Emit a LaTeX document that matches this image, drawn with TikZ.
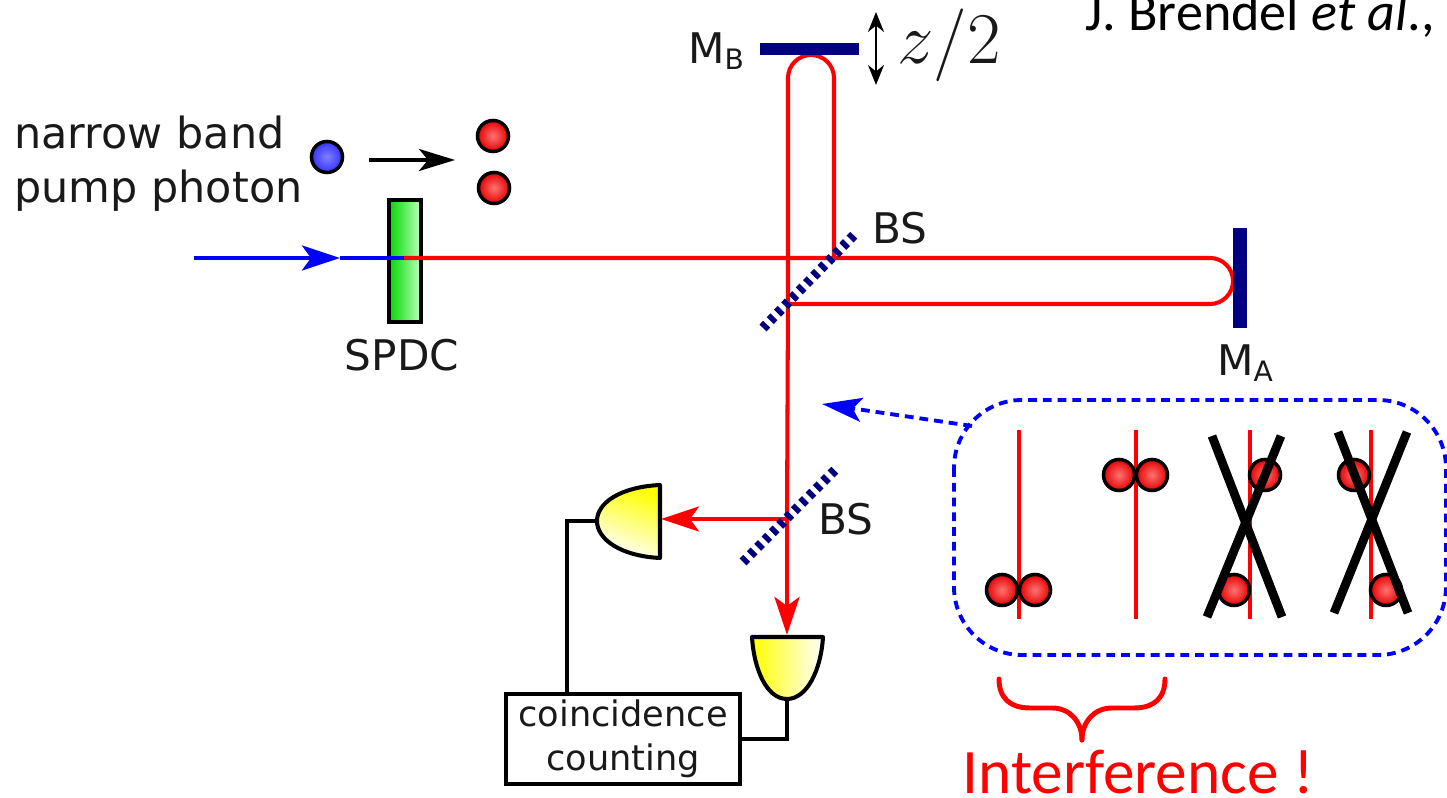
\documentclass[tikz,border=0pt]{standalone}
\usepackage{fontspec}
\setmainfont{DejaVu Sans}
\newfontfamily\calfont{Carlito}
\usetikzlibrary{arrows.meta}
\tikzset{
	beam/.style={red,line width=1.15pt},
	pumpbeam/.style={blue,line width=1.15pt},
	beamtip/.style={-{Stealth[length=.38cm,width=.25cm,inset=.09cm]}},
	mirror/.style={fill=blue!50!black,draw=none},
	splitter/.style={blue!50!black,line width=2.8pt,dash pattern=on 1.5pt off 1.45pt},
	wire/.style={black,line width=1.15pt},
	detector/.style={black,line width=1.15pt,line join=round},
	photon/.style={circle,draw=black,line width=1pt,inner sep=0pt,minimum size=.31cm,inner color=red!55,outer color=red!90!black},
	tag/.style={font=\fontsize{12}{14}\selectfont,text=black!90},
	track/.style={red,line width=1.3pt},
	cross/.style={black,line width=2.5pt}
}
\begin{document}
\begin{tikzpicture}[x=.01cm,y=-.01cm]
		\useasboundingbox (0,0) rectangle (1447,798);
		\coordinate (pumpin) at (194,258);
		\coordinate (pumptip) at (340,258);
		\coordinate (crystalmid) at (404,258);
		\coordinate (bsa) at (787,258);
		\coordinate (bsb) at (787,519);
		\coordinate (loopb) at (834,78);
		\coordinate (loopa) at (1210,258);
		\coordinate (tipdeta) at (661,519);
		\coordinate (tipdetb) at (787,635);
		\coordinate (outdeta) at (597,521);
		\coordinate (outdetb) at (787,699);
		% crystal and pump
		\draw[black,line width=1.15pt,left color=green!85!black,right color=green!25] (389,200) rectangle (421,322);
		\draw[pumpbeam,beamtip] (pumpin) -- (pumptip);
		\draw[pumpbeam] (pumptip) -- (crystalmid);
		\draw[beam] (crystalmid) -- (loopa) arc (-90:90:23) -- (788,304);
		\draw[beam] (834,258) -- (loopb) arc (0:-180:23) -- (788,300) -- (bsb);
		\draw[beam,beamtip] (bsb) -- (tipdeta);
		\draw[beam,beamtip] (bsb) -- (tipdetb);
		\fill[mirror] (760,43) rectangle (859,55);
		\fill[mirror] (1233,228) rectangle (1247,328);
		\draw[splitter] (763,328) -- (854,235);
		\draw[splitter] (743,562) -- (835,470);
		% detectors
		\draw[detector,top color=yellow,bottom color=white,shading angle=-20] (660,485) .. controls (620,487) and (597,503) .. (597,521) .. controls (597,539) and (620,556) .. (660,558) -- cycle;
		\draw[detector,left color=yellow,right color=white] (752,637) -- (823,637) .. controls (821,670) and (807,699) .. (787,699) .. controls (767,699) and (754,670) .. (752,637) -- cycle;
		\node[draw=black,line width=1.15pt,minimum width=2.34cm,minimum height=.9cm,inner sep=0pt,align=center,font=\fontsize{10}{12.4}\selectfont,text=black!90] (counter) at (623,739) {coincidence\\counting};
		\draw[wire] (outdeta) -- (567,521) -- (567,694);
		\draw[wire] (outdetb) |- (counter.east);
		% labels
		\node[tag,align=left,anchor=west,font=\fontsize{12.2}{15.4}\selectfont] (pumptext) at (2,164) {narrow band\\pump photon};
		\node[circle,draw=black,line width=1pt,inner sep=0pt,minimum size=.31cm,inner color=blue!50,outer color=blue!80] (pumpdot) at (327,157) {};
		\node[photon] (pairup) at (493,136) {};
		\node[photon] (pairdown) at (494,188) {};
		\draw[black,line width=1pt,-{Stealth[length=.36cm,width=.22cm,inset=.09cm]}] (369,160) -- (455,160);
		\node[tag] (spdc) at (402,355) {SPDC};
		\node[tag] (mb) at (717,51) {M\textsubscript{B}};
		\node[tag] (ma) at (1246,363) {M\textsubscript{A}};
		\node[tag] (bsup) at (900,228) {BS};
		\node[tag] (bsdown) at (846,519) {BS};
		\node[font=\fontsize{20.5}{24}\selectfont,text=black!90] (shift) at (949,45) {$z/2$};
		\draw[black,line width=.7pt,{Stealth[length=.2cm,width=.16cm]}-{Stealth[length=.2cm,width=.16cm]}] (876,12) -- (876,85);
		\node[anchor=base west,inner sep=0pt,font=\calfont\fontsize{15.4}{18}\selectfont] (ref) at (1085,31) {J. Brendel \textit{et al}., P};
		% inset
		\draw[blue,line width=1.1pt,dash pattern=on 2.5pt off 1.7pt,rounded corners=.68cm] (954,400) rectangle (1446,655);
		\coordinate (insetcorner) at (972,426);
		\draw[blue,line width=1.1pt,dash pattern=on 2.5pt off 1.7pt,-{Stealth[length=.4cm,width=.24cm,inset=.09cm,sep=0pt]}] (insetcorner) -- (822,404);
		\foreach \xpos in {1019,1136,1250,1371}
			\draw[track] (\xpos,430) -- (\xpos,619);
		\node[photon] (a1) at (1002,590) {};
		\node[photon] (a2) at (1035,590) {};
		\node[photon] (b1) at (1119,475) {};
		\node[photon] (b2) at (1152,475) {};
		\node[photon] (c1) at (1265,475) {};
		\node[photon] (c2) at (1234,590) {};
		\node[photon] (d1) at (1354,475) {};
		\node[photon] (d2) at (1386,590) {};
		\draw[cross] (1212,436) -- (1282,617);
		\draw[cross] (1281,436) -- (1207,617);
		\draw[cross] (1338,432) -- (1408,613);
		\draw[cross] (1407,432) -- (1334,613);
		% brace
		\draw[red,line width=1.4pt,line cap=round] (999,679) .. controls (999,698) and (1010,708) .. (1030,708) -- (1052,708) .. controls (1070,708) and (1082,722) .. (1082,740);
		\draw[red,line width=1.4pt,line cap=round] (1165,679) .. controls (1165,698) and (1154,708) .. (1134,708) -- (1112,708) .. controls (1094,708) and (1082,722) .. (1082,740);
		\node[anchor=base west,inner sep=0pt,text=red,font=\calfont\fontsize{18}{20}\selectfont] (interf) at (962,794) {Interference !};
	\end{tikzpicture}
\end{document}
